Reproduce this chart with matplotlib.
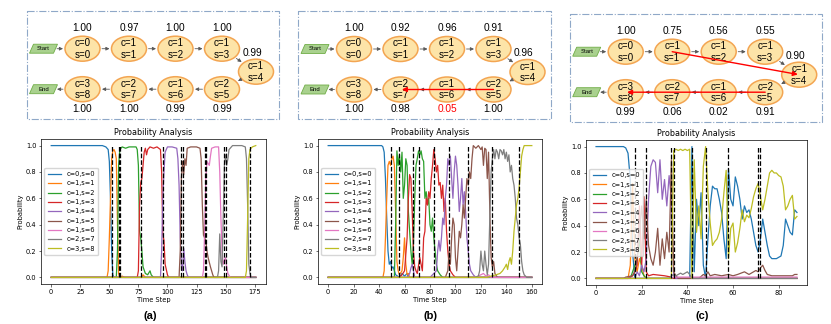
import matplotlib
matplotlib.use('Agg')
import matplotlib.pyplot as plt
from matplotlib.patches import Ellipse, Polygon, Rectangle
import numpy as np

# ---------------- data ----------------
LABELS = ['c=0,s=0', 'c=1,s=1', 'c=1,s=2', 'c=1,s=3', 'c=1,s=4',
          'c=1,s=5', 'c=1,s=6', 'c=2,s=7', 'c=3,s=8']
NODE_C = [0, 1, 1, 1, 1, 2, 1, 2, 3]
NODE_S = [0, 1, 2, 3, 4, 5, 6, 7, 8]

PROBS_A = [1.00, 0.97, 1.00, 1.00, 0.99, 0.99, 0.99, 1.00, 1.00]
PROBS_B = [1.00, 0.92, 0.96, 0.91, 0.96, 1.00, 0.05, 0.98, 1.00]
PROBS_C = [1.00, 0.75, 0.56, 0.55, 0.90, 0.91, 0.02, 0.06, 0.99]
RED_PROB_B = [6]
RED_ARROWS_A = []
RED_ARROWS_B = [(5, 7)]
RED_ARROWS_C = [(1, 4), (5, 8)]

# panel (a): (time step, probability) samples per state
A_S0 = [(0,1.0),(44,1.0),(47,0.99),(49,0.97),(50,0.88),(51,0.6),(52,0.2),(53,0.02),(54,0.0),(176,0.0)]
A_S1 = [(0,0.0),(48,0.0),(49,0.05),(50,0.3),(51,0.6),(52,0.9),(53,0.96),(54,0.97),(55,0.95),(56,0.9),(57,0.4),(58,0.03),(59,0.0),(61,0.01),(63,0.0),(78,0.0),(79,0.02),(81,0.0),(176,0.0)]
A_S2 = [(0,0.0),(56,0.0),(57,0.2),(58,0.85),(59,0.97),(61,0.99),(64,0.98),(67,0.99),(70,0.99),(73,0.99),(74,0.97),(75,0.85),(76,0.35),(77,0.3),(78,0.2),(79,0.08),(81,0.03),(83,0.02),(85,0.05),(86,0.02),(88,0.0),(176,0.0)]
A_S3 = [(0,0.0),(74,0.0),(75,0.05),(76,0.55),(77,0.72),(78,0.75),(79,0.85),(80,0.95),(81,0.98),(82,0.93),(83,0.97),(85,0.99),(88,0.98),(91,0.99),(94,0.97),(95,0.8),(96,0.33),(97,0.28),(98,0.1),(100,0.02),(101,0.0),(176,0.0)]
A_S4 = [(0,0.0),(94,0.0),(95,0.2),(96,0.6),(97,0.8),(98,0.95),(100,0.99),(104,0.99),(108,0.98),(109,0.9),(110,0.7),(111,0.3),(112,0.1),(113,0.05),(114,0.22),(115,0.12),(116,0.05),(117,0.02),(118,0.0),(176,0.0)]
A_S5 = [(0,0.0),(110,0.0),(111,0.2),(112,0.75),(113,0.88),(114,0.78),(115,0.9),(116,0.85),(117,0.98),(120,0.99),(125,0.99),(128,0.98),(129,0.9),(130,0.55),(131,0.32),(133,0.28),(134,0.2),(135,0.15),(137,0.08),(139,0.02),(140,0.0),(176,0.0)]
A_S6 = [(0,0.0),(130,0.0),(131,0.05),(132,0.35),(133,0.75),(134,0.88),(136,0.85),(137,0.92),(138,0.98),(141,0.99),(144,0.99),(145,0.8),(146,0.45),(147,0.2),(148,0.1),(150,0.15),(151,0.08),(152,0.03),(154,0.0),(176,0.0)]
A_S7 = [(0,0.0),(143,0.0),(144,0.05),(145,0.33),(146,0.12),(147,0.08),(148,0.45),(149,0.85),(150,0.93),(151,0.85),(152,0.9),(153,0.97),(156,1.0),(164,1.0),(167,0.99),(168,0.9),(169,0.55),(170,0.1),(171,0.03),(172,0.0),(176,0.0)]
A_S8 = [(0,0.0),(167,0.0),(168,0.05),(169,0.45),(170,0.9),(171,0.97),(173,0.99),(176,1.0)]

# panel (b)
B_S0 = [(0,1.0),(42,1.0),(43,0.99),(44,0.95),(45,0.75),(46,0.45),(47,0.2),(48,0.1),(49,0.12),(50,0.07),(51,0.08),(53,0.02),(56,0.0),(58,0.03),(60,0.01),(62,0.03),(63,0.0),(160,0.0)]
B_S1 = [(0,0.0),(43,0.0),(44,0.05),(45,0.3),(46,0.6),(47,0.85),(48,0.88),(49,0.85),(50,0.9),(51,0.92),(52,0.85),(53,0.5),(54,0.12),(55,0.05),(56,0.02),(58,0.05),(59,0.15),(60,0.3),(61,0.1),(62,0.02),(63,0.03),(64,0.0),(160,0.0)]
B_S2 = [(0,0.0),(52,0.0),(53,0.4),(54,0.96),(55,0.85),(56,0.93),(57,0.8),(58,0.95),(59,0.6),(60,0.7),(61,0.9),(62,0.85),(63,0.5),(64,0.35),(65,0.2),(66,0.1),(67,0.25),(68,0.6),(69,0.85),(70,0.9),(71,0.96),(72,0.93),(73,0.96),(74,0.9),(75,0.88),(76,0.6),(77,0.65),(78,0.55),(79,0.6),(80,0.4),(81,0.35),(82,0.45),(83,0.3),(84,0.2),(85,0.1),(86,0.05),(88,0.02),(90,0.0),(160,0.0)]
B_S3 = [(0,0.0),(56,0.0),(58,0.02),(60,0.05),(62,0.3),(63,0.6),(64,0.78),(65,0.75),(66,0.5),(67,0.2),(68,0.08),(69,0.05),(70,0.03),(72,0.15),(73,0.1),(74,0.05),(75,0.3),(76,0.35),(77,0.6),(78,0.55),(79,0.65),(80,0.6),(81,0.75),(82,0.85),(83,0.97),(84,0.9),(85,0.8),(86,0.85),(87,0.7),(88,0.72),(89,0.6),(90,0.7),(91,0.5),(92,0.6),(93,0.35),(94,0.2),(95,0.1),(96,0.05),(98,0.02),(100,0.0),(160,0.0)]
B_S4 = [(0,0.0),(62,0.0),(64,0.03),(65,0.07),(66,0.1),(67,0.05),(68,0.0),(80,0.0),(82,0.02),(85,0.05),(86,0.2),(87,0.28),(88,0.2),(89,0.3),(90,0.45),(91,0.4),(92,0.6),(93,0.7),(94,0.9),(95,0.85),(96,0.92),(97,0.75),(98,0.6),(99,0.8),(100,0.92),(101,0.85),(102,0.7),(103,0.5),(104,0.6),(105,0.75),(106,0.55),(107,0.65),(108,0.5),(109,0.3),(110,0.2),(111,0.1),(112,0.05),(114,0.02),(116,0.0),(160,0.0)]
B_S5 = [(0,0.0),(92,0.0),(94,0.05),(95,0.2),(96,0.1),(97,0.3),(98,0.45),(99,0.4),(100,0.15),(101,0.05),(102,0.2),(103,0.35),(104,0.3),(105,0.4),(106,0.55),(107,0.45),(108,0.6),(109,0.75),(110,0.7),(111,0.8),(112,0.75),(113,0.9),(114,1.0),(116,0.98),(118,1.0),(120,0.97),(121,0.99),(122,0.85),(123,0.98),(124,0.97),(125,0.75),(126,0.95),(127,0.5),(128,0.15),(129,0.08),(130,0.12),(131,0.03),(133,0.0),(160,0.0)]
B_S6 = [(0,0.0),(115,0.0),(118,0.01),(120,0.02),(122,0.03),(124,0.01),(126,0.02),(128,0.0),(160,0.0)]
B_S7 = [(0,0.0),(115,0.0),(118,0.01),(119,0.05),(120,0.2),(121,0.1),(122,0.05),(123,0.2),(124,0.1),(125,0.02),(126,0.1),(127,0.45),(128,0.8),(129,0.9),(130,0.97),(131,0.9),(132,0.97),(133,0.95),(134,0.9),(135,0.97),(136,0.96),(137,0.93),(138,0.97),(139,0.9),(140,0.95),(141,0.88),(142,0.93),(143,0.8),(144,0.85),(145,0.75),(146,0.7),(147,0.6),(148,0.45),(149,0.4),(150,0.3),(151,0.25),(152,0.12),(153,0.05),(154,0.02),(156,0.0),(160,0.0)]
B_S8 = [(0,0.0),(125,0.0),(128,0.01),(132,0.02),(135,0.03),(137,0.05),(139,0.08),(140,0.1),(141,0.06),(142,0.12),(143,0.15),(144,0.1),(145,0.2),(146,0.35),(147,0.45),(148,0.55),(149,0.6),(150,0.68),(151,0.8),(152,0.92),(153,0.97),(154,1.0),(160,1.0)]

# panel (c)
C_S0 = [(0,1.0),(12,1.0),(13,0.99),(14,0.95),(15,0.75),(16,0.2),(17,0.0),(41,0.0),(42,1.0),(43,0.05),(44,0.6),(45,0.4),(46,0.65),(47,0.1),(48,0.0),(49,0.3),(50,0.55),(51,0.7),(52,0.68),(53,0.68),(54,0.6),(55,0.5),(56,0.3),(57,0.15),(58,0.83),(59,0.6),(60,0.55),(61,0.77),(62,0.7),(63,0.6),(64,0.45),(65,0.55),(66,0.5),(67,0.52),(68,0.45),(69,0.35),(70,0.25),(71,0.2),(72,0.3),(73,0.45),(74,0.35),(75,0.25),(76,0.17),(77,0.15),(78,0.15),(79,0.15),(80,0.16),(81,0.17),(82,0.25),(83,0.45),(84,0.4),(85,0.35),(86,0.33),(87,0.52),(88,0.5)]
C_S1 = [(0,0.0),(14,0.0),(15,0.1),(16,0.72),(17,0.15),(18,0.05),(19,0.15),(20,0.1),(21,0.02),(22,0.0),(88,0.0)]
C_S2 = [(0,0.0),(15,0.0),(16,0.05),(17,0.1),(18,0.15),(19,0.3),(20,0.05),(21,0.02),(22,0.0),(88,0.0)]
C_S3 = [(0,0.0),(14,0.0),(16,0.02),(17,0.05),(18,0.1),(19,0.55),(20,0.1),(21,0.62),(22,0.05),(23,0.02),(25,0.03),(30,0.02),(33,0.01),(34,0.0),(88,0.0)]
C_S4 = [(0,0.0),(17,0.0),(18,0.05),(19,0.02),(20,0.1),(21,0.05),(22,0.15),(23,0.6),(24,0.85),(25,0.9),(26,0.88),(27,0.65),(28,0.9),(29,0.6),(30,0.75),(31,0.55),(32,0.78),(33,0.6),(34,0.02),(35,0.0),(88,0.0)]
C_S5 = [(0,0.0),(12,0.0),(13,0.01),(16,0.02),(17,0.05),(18,0.15),(19,0.35),(20,0.55),(21,0.3),(22,0.6),(23,0.25),(24,0.15),(25,0.1),(26,0.2),(27,0.38),(28,0.1),(29,0.3),(30,0.15),(31,0.35),(32,0.2),(33,0.9),(34,0.05),(35,0.02),(36,0.0),(45,0.0),(47,0.03),(48,0.02),(49,0.05),(50,0.02),(52,0.03),(55,0.02),(58,0.03),(60,0.02),(62,0.03),(65,0.05),(67,0.03),(68,0.04),(70,0.06),(71,0.05),(72,0.08),(73,0.1),(74,0.06),(75,0.03),(77,0.02),(80,0.02),(84,0.02),(86,0.02),(87,0.03),(88,0.03)]
C_S6 = [(0,0.0),(33,0.0),(34,0.01),(88,0.01)]
C_S7 = [(0,0.0),(32,0.0),(33,0.02),(34,0.03),(35,0.02),(36,0.03),(37,0.04),(38,0.03),(39,0.04),(40,0.05),(41,0.03),(42,0.0),(88,0.0)]
C_S8 = [(0,0.0),(33,0.0),(34,0.97),(35,0.98),(36,0.97),(37,0.98),(38,0.97),(39,0.98),(40,0.97),(41,0.98),(42,0.0),(43,0.9),(44,0.35),(45,0.55),(46,0.3),(47,0.85),(48,1.0),(49,0.65),(50,0.42),(51,0.25),(52,0.28),(53,0.3),(54,0.35),(55,0.45),(56,0.65),(57,0.82),(58,0.15),(59,0.38),(60,0.42),(61,0.2),(62,0.27),(63,0.38),(64,0.52),(65,0.43),(66,0.48),(67,0.46),(68,0.53),(69,0.62),(70,0.68),(71,0.72),(72,0.62),(73,0.52),(74,0.6),(75,0.7),(76,0.8),(77,0.82),(78,0.8),(79,0.8),(80,0.78),(81,0.77),(82,0.7),(83,0.52),(84,0.55),(85,0.6),(86,0.63),(87,0.45),(88,0.47)]

VLINES_A = [52, 58, 59, 77, 96, 112, 113, 132, 133, 149, 150, 171]
VLINES_B = [49, 56, 67, 71, 83, 95, 110, 129, 150]
VLINES_C = [17, 22, 33, 34, 42, 48, 58, 71, 72]

XTICKS_A = [0, 25, 50, 75, 100, 125, 150, 175]
XTICKS_B = [0, 20, 40, 60, 80, 100, 120, 140, 160]
XTICKS_C = [0, 20, 40, 60, 80]
YTICKS = [0.0, 0.2, 0.4, 0.6, 0.8, 1.0]

# ---------------- figure ----------------
W, H = 831, 324
fig = plt.figure(figsize=(W / 100, H / 100), dpi=100)
COLORS = plt.rcParams['axes.prop_cycle'].by_key()['color'][:9]
FS = 4.8


def px_rect(l, t, r, b):
    return [l / W, 1 - b / H, (r - l) / W, (b - t) / H]


def plot_panel(rect, series, vlines, xticks):
    ax = fig.add_axes(rect)
    for pts, lab, col in zip(series, LABELS, COLORS):
        ax.plot([p[0] for p in pts], [p[1] for p in pts], color=col, lw=0.9, label=lab)
    ax.vlines(vlines, 0, 1, colors='k', linestyles='--', lw=0.9, zorder=3)
    ax.set_ylim(-0.05, 1.05)
    ax.set_xticks(xticks)
    ax.set_yticks(YTICKS)
    ax.tick_params(labelsize=FS, length=1.8, width=0.4, pad=1.5)
    for sp in ax.spines.values():
        sp.set_linewidth(0.5)
    ax.set_title('Probability Analysis', fontsize=5.8, pad=3)
    ax.set_xlabel('Time Step', fontsize=FS, labelpad=1.5)
    ax.set_ylabel('Probability', fontsize=FS, labelpad=1.5)
    ax.legend(loc='center left', fontsize=FS, handlelength=2.0, borderpad=0.5,
              labelspacing=0.5, framealpha=0.8, edgecolor='0.8')
    return ax


plot_panel(px_rect(41, 139, 266, 284), [A_S0, A_S1, A_S2, A_S3, A_S4, A_S5, A_S6, A_S7, A_S8], VLINES_A, XTICKS_A)
plot_panel(px_rect(318, 139, 542, 284), [B_S0, B_S1, B_S2, B_S3, B_S4, B_S5, B_S6, B_S7, B_S8], VLINES_B, XTICKS_B)
plot_panel(px_rect(586, 140, 807, 285), [C_S0, C_S1, C_S2, C_S3, C_S4, C_S5, C_S6, C_S7, C_S8], VLINES_C, XTICKS_C)

for txt, x in [('(a)', 150), ('(b)', 430), ('(c)', 702)]:
    fig.text(x / W, 1 - 316 / H, txt, fontsize=8, fontweight='bold',
             family='Liberation Sans', ha='center', va='center')

# ---------------- diagrams (overlay in pixel coordinates) ----------------
ov = fig.add_axes([0, 0, 1, 1])
ov.set_xlim(0, W)
ov.set_ylim(H, 0)
ov.axis('off')

EA, EB = 17.5, 12.5
DFONT = 'Liberation Sans'


def node_xy(x0, y0, i):
    dx = 46.5
    if i < 4:
        return (x0 + 39 + dx * i, y0)
    if i == 4:
        return (x0 + 39 + dx * 3 + 34, y0 + 23)
    return (x0 + 39 + dx * (8 - i), y0 + 40.5)


def edge(c, toward, gap=2.0):
    ux, uy = toward[0] - c[0], toward[1] - c[1]
    n = np.hypot(ux, uy)
    ux, uy = ux / n, uy / n
    r = 1 / np.sqrt((ux / EA) ** 2 + (uy / EB) ** 2)
    return (c[0] + (r + gap) * ux, c[1] + (r + gap) * uy)


def arrow(p0, p1, color='#595959', lw=0.6, ms=5, z=4):
    ov.annotate('', xy=p1, xytext=p0,
                arrowprops=dict(arrowstyle='-|>', color=color, lw=lw,
                                mutation_scale=ms, shrinkA=0, shrinkB=0), zorder=z)


def para(cx, cy, text):
    w, h, s = 24, 9, 4
    pts = [(cx - w / 2 + s / 2, cy - h / 2), (cx + w / 2 + s / 2, cy - h / 2),
           (cx + w / 2 - s / 2, cy + h / 2), (cx - w / 2 - s / 2, cy + h / 2)]
    ov.add_patch(Polygon(pts, closed=True, facecolor='#a9d18e', edgecolor='#70ad47', lw=0.6, zorder=3))
    ov.text(cx, cy, text, fontsize=4.3, family=DFONT, ha='center', va='center', zorder=5)


def diagram(x0, y0, probs, red_probs, red_arrows):
    ov.add_patch(Rectangle((x0 - 17, y0 - 38), 252.5, 108, fill=False,
                           edgecolor='#8fa8c8', lw=0.8, linestyle='-.', zorder=2))
    para(x0, y0, 'Start')
    para(x0, y0 + 40.5, 'End')
    centers = [node_xy(x0, y0, i) for i in range(9)]
    for i, (cx, cy) in enumerate(centers):
        ov.add_patch(Ellipse((cx, cy), 2 * EA, 2 * EB, facecolor='#fde4a8',
                             edgecolor='#f3a552', lw=1.1, zorder=3))
        ov.text(cx, cy - 5.5, f'c={NODE_C[i]}', fontsize=7, family=DFONT,
                ha='center', va='center', zorder=5)
        ov.text(cx, cy + 6, f's={NODE_S[i]}', fontsize=7, family=DFONT,
                ha='center', va='center', zorder=5)
        col = 'red' if i in red_probs else 'black'
        if i < 4:
            px, py = cx, cy - 21
        elif i == 4:
            px, py = cx - 4, cy - 18.5
        else:
            px, py = cx, cy + 19.5
        ov.text(px, py, f'{probs[i]:.2f}', fontsize=7.3, family=DFONT, color=col,
                ha='center', va='center', zorder=5)
    # gray flow arrows
    arrow((x0 + 13.5, y0), edge(centers[0], (x0, y0)))
    for i in range(8):
        a, b = centers[i], centers[i + 1]
        arrow(edge(a, b), edge(b, a))
    arrow(edge(centers[8], (x0, y0 + 40.5)), (x0 + 13.5, y0 + 40.5))
    for (i, j) in red_arrows:
        ov.annotate('', xy=centers[j], xytext=centers[i],
                    arrowprops=dict(arrowstyle='-|>', color='red', lw=1.0,
                                    mutation_scale=7, shrinkA=0, shrinkB=1), zorder=6)


diagram(43.5, 48.7, PROBS_A, [], RED_ARROWS_A)
diagram(315.0, 49.0, PROBS_B, RED_PROB_B, RED_ARROWS_B)
diagram(586.7, 51.7, PROBS_C, [], RED_ARROWS_C)

fig.savefig('out.png', dpi=100)
